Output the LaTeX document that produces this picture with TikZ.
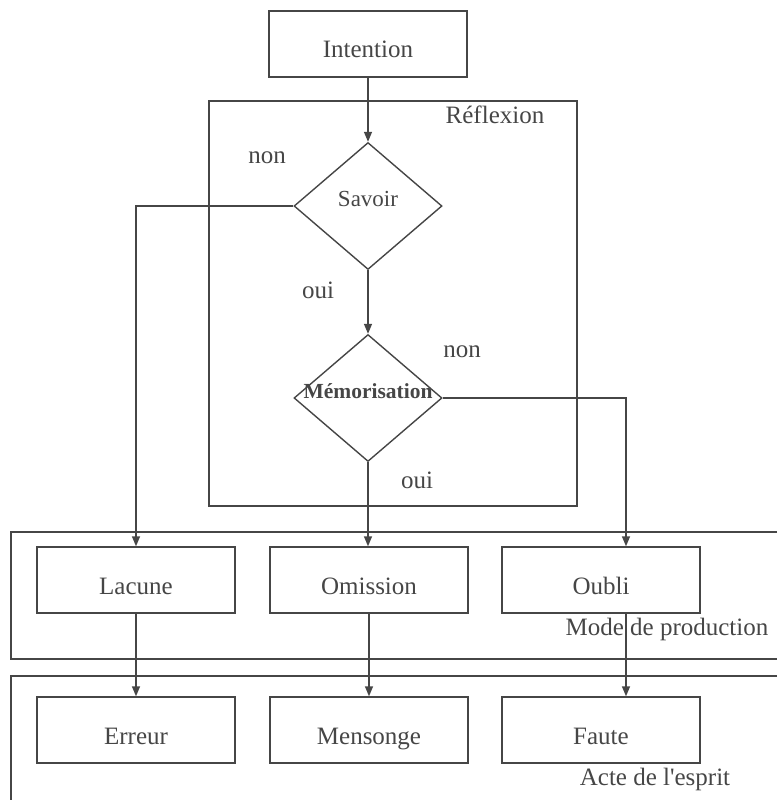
\documentclass[tikz,border=0pt]{standalone}
\usepackage{fontspec}
\setmainfont{Liberation Serif}
\usepackage{textcomp}
\usepackage{tikz}
\usetikzlibrary{arrows.meta,positioning,shapes.geometric}
\definecolor{inkgray}{RGB}{70,70,70}

\begin{document}
\begin{tikzpicture}[x=1pt,y=-1pt,>={Triangle[length=10pt,width=8pt]},line width=1.4pt,inkgray,
    every node/.style={align=center,text=inkgray,font=\fontsize{25}{30}\selectfont},
    box/.style={draw,minimum width=198pt,minimum height=66pt,inner sep=0pt,text height=31pt,text depth=3pt},
    choice/.style={draw,diamond,minimum width=148pt,minimum height=127pt,inner sep=0pt,text height=12pt,text depth=12pt},
    tag/.style={inner sep=0pt}]
  \useasboundingbox (0,0) rectangle (777,800);
  % frames
  \draw (209,101) rectangle (577,506);
  \draw (777,532) -- (11,532) -- (11,659) -- (777,659);
  \draw (777,676) -- (11,676) -- (11,800);
  \node[tag] (reflexion) at (495,115) {Réflexion};
  \node[tag] (modeprod) at (667,629) {Mode de production};
  \node[tag] (acte) at (655,779) {Acte de l\textquotesingle esprit};
  % decisions
  \node[box] (intention) at (368,44) {Intention};
  \node[choice] (savoir) at (368,206) {\makebox[0pt]{\fontsize{23}{27}\selectfont Savoir}};
  \node[choice] (memo) at (368,398) {\makebox[0pt]{\fontsize{21.5}{25}\selectfont\textbf{Mémorisation}}};
  \node[tag] (savnon) at (267,158) {non};
  \node[tag] (savoui) at (318,290) {oui};
  \node[tag] (memnon) at (462,352) {non};
  \node[tag] (memoui) at (417,480) {oui};
  % outcomes
  \node[box] (lacune) at (136,580) {Lacune};
  \node[box] (omission) at (369,580) {Omission};
  \node[box] (oubli) at (601,580) {Oubli};
  \node[box] (erreur) at (136,730) {Erreur};
  \node[box] (mensonge) at (369,730) {Mensonge};
  \node[box] (faute) at (601,730) {Faute};
  % arrows
  \draw[->] (intention) -- (savoir);
  \draw[->] (savoir) -- (memo);
  \draw[->] (savoir.west) -| (lacune.north);
  \draw[->] (memo.south) -- (memo.south |- omission.north);
  \draw[->] (memo.east) -| ([xshift=25pt]oubli.north);
  \draw[->] (lacune) -- (erreur);
  \draw[->] (omission.south) -- (omission.south |- mensonge.north);
  \draw[->] ([xshift=25pt]oubli.south) -- ([xshift=25pt]faute.north);
\end{tikzpicture}
\end{document}
